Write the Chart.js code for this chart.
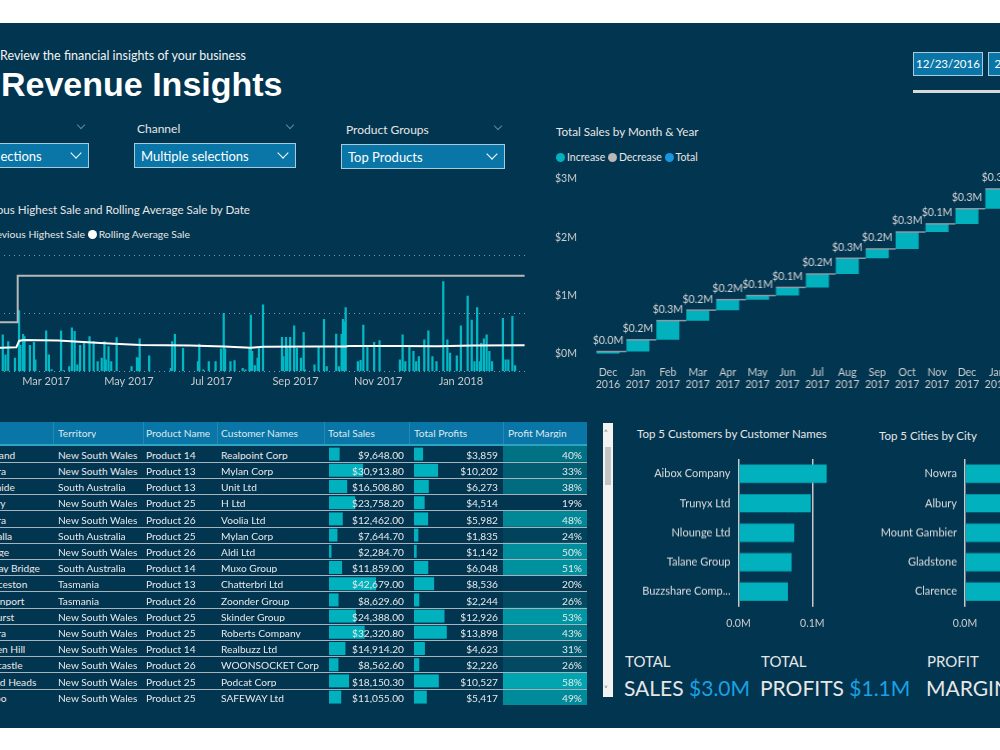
<!DOCTYPE html>
<html>
<head>
<meta charset="utf-8">
<script src="https://cdn.jsdelivr.net/npm/chart.js@4.4.0/dist/chart.umd.min.js"></script>
<style>
body{margin:0;width:1000px;height:750px;overflow:hidden;background:#fff;font-family:Lato,"Noto Sans",sans-serif;position:relative}
#dash{position:absolute;left:0;top:23px;width:1000px;height:705px;background:#023550}
.t{position:absolute;white-space:nowrap;color:#e6e6e6;line-height:1}
.box{position:absolute;background:#0a76a8;border:1px solid #a9c9dc;color:#fff;font-size:13px;line-height:24px;padding-left:6px;box-sizing:border-box;white-space:nowrap;overflow:hidden}
.chev{position:absolute;width:7px;height:7px;border-right:1.5px solid #fff;border-bottom:1.5px solid #fff;transform:rotate(45deg)}
.chev.s{width:5px;height:5px;border-color:#5f8aa3;border-width:1px}
.dot{display:inline-block;width:9px;height:9px;border-radius:50%;margin:0 2px 0 0;vertical-align:-1px}
.wrap{position:absolute}
.cell{position:absolute;overflow:hidden;white-space:nowrap}
</style>
</head>
<body>
<div id="dash"></div>

<div class="t" style="left:0;top:50px;font-size:12.5px;color:#f2f2f2">Review the financial insights of your business</div>
<div class="t" style="left:1px;top:67px;font-family:'Liberation Sans',Arial,sans-serif;font-weight:bold;font-size:34px;color:#fff">Revenue Insights</div>

<div class="box" style="left:913px;top:52px;width:70px;height:24px;font-size:11.5px;padding:0;text-align:center;line-height:22px">12/23/2016</div>
<div class="box" style="left:988px;top:52px;width:70px;height:24px;font-size:11.5px;padding:0;text-align:center;line-height:22px">2/19/2018</div>
<div style="position:absolute;left:913px;top:90px;width:90px;height:3px;background:#d9d9d9"></div>

<div class="chev s" style="left:78px;top:122px"></div>
<div class="t" style="left:137px;top:123px;font-size:12px">Channel</div>
<div class="chev s" style="left:287px;top:122px"></div>
<div class="t" style="left:346px;top:124px;font-size:12px">Product Groups</div>
<div class="chev s" style="left:495px;top:123px"></div>

<div class="box" style="left:-73px;top:143px;width:162px;height:25px">Multiple selections</div>
<div class="chev" style="left:72px;top:149px"></div>
<div class="box" style="left:134px;top:143px;width:162px;height:25px">Multiple selections</div>
<div class="chev" style="left:279px;top:149px"></div>
<div class="box" style="left:341px;top:144px;width:164px;height:25px">Top Products</div>
<div class="chev" style="left:488px;top:150px"></div>

<div class="t" style="right:750px;top:204px;font-size:11.6px">Total Sales, Previous Highest Sale and Rolling Average Sale by Date</div>
<div class="t" style="right:810px;top:229px;font-size:10.4px"><span class="dot" style="background:#01b8c4"></span>Total Sales <span class="dot" style="background:#b5b5b5"></span>Previous Highest Sale <span class="dot" style="background:#fff"></span>Rolling Average Sale</div>
<div class="wrap" style="left:-47.5px;top:240px;width:575.3px;height:151.4px"><canvas id="lineChart"></canvas></div>

<div class="t" style="left:556px;top:126px;font-size:11.7px">Total Sales by Month &amp; Year</div>
<div class="t" style="left:556px;top:152px;font-size:10.5px"><span class="dot" style="background:#01b2be"></span>Increase <span class="dot" style="background:#b8b8b8"></span>Decrease <span class="dot" style="background:#1a96e0"></span>Total</div>
<div class="wrap" style="left:555px;top:160px;width:515.6px;height:244px"><canvas id="waterfall"></canvas></div>

<div id="table"></div>
<div class="wrap" style="left:329px;top:446px;width:75px;height:259.2px;z-index:1"><canvas id="salesBars"></canvas></div>
<div class="wrap" style="left:414px;top:446px;width:84px;height:259.2px;z-index:1"><canvas id="profitBars"></canvas></div>
<div class="wrap" style="left:503px;top:446px;width:84px;height:259.2px;z-index:1"><canvas id="marginCells"></canvas></div>

<div style="position:absolute;left:603px;top:423px;width:10px;height:274px;background:#f2f2f2"></div>
<div style="position:absolute;left:605px;top:447px;width:6px;height:38px;background:#c4c4c4"></div>
<div class="t" style="left:604px;top:428px;font-size:8px;color:#666">&#708;</div>
<div class="t" style="left:604px;top:684px;font-size:8px;color:#666">&#709;</div>

<div class="t" style="left:637px;top:428px;font-size:11.5px">Top 5 Customers by Customer Names</div>
<div class="wrap" style="left:630px;top:459.4px;width:204.4px;height:181.2px"><canvas id="custChart"></canvas></div>
<div class="t" style="left:879px;top:430px;font-size:11.5px">Top 5 Cities by City</div>
<div class="wrap" style="left:850px;top:459.4px;width:211px;height:181.2px"><canvas id="cityChart"></canvas></div>

<div class="t" style="left:625px;top:654px;font-size:15px">TOTAL</div>
<div class="t" style="left:624px;top:677px;font-size:21px">SALES <span style="color:#1ba1e2">$3.0M</span></div>
<div class="t" style="left:761px;top:654px;font-size:15px">TOTAL</div>
<div class="t" style="left:760px;top:677px;font-size:21px">PROFITS <span style="color:#1ba1e2">$1.1M</span></div>
<div class="t" style="left:927px;top:654px;font-size:15px">PROFIT</div>
<div class="t" style="left:926px;top:677px;font-size:21px">MARGIN <span style="color:#1ba1e2">37%</span></div>

<script>
// daily sales bars (visible part of the chart)
const saleDates = ['2017-01-28','2017-01-30','2017-02-01','2017-02-06','2017-02-09','2017-02-10','2017-02-12','2017-02-13','2017-02-17','2017-02-20','2017-02-21',
  '2017-03-01','2017-03-03','2017-03-05','2017-03-12','2017-03-14','2017-03-18','2017-03-20','2017-03-22','2017-03-24','2017-03-26','2017-03-29',
  '2017-04-02','2017-04-05','2017-04-08','2017-04-11','2017-04-13','2017-04-14','2017-04-16','2017-04-18','2017-04-22',
  '2017-05-03','2017-05-07','2017-05-08','2017-05-09','2017-05-16',
  '2017-06-01','2017-06-02','2017-06-04','2017-06-10','2017-06-21','2017-06-22','2017-06-25','2017-06-29',
  '2017-07-04','2017-07-08','2017-07-10','2017-07-11','2017-07-15','2017-07-18','2017-07-24','2017-07-26','2017-07-29','2017-07-30','2017-07-31',
  '2017-08-02','2017-08-04','2017-08-05','2017-08-08','2017-08-22','2017-08-23','2017-08-25','2017-08-26','2017-08-28','2017-08-31',
  '2017-09-02','2017-09-05','2017-09-07','2017-09-08','2017-09-15','2017-09-18','2017-09-22','2017-09-24',
  '2017-10-01','2017-10-03','2017-10-05','2017-10-06','2017-10-07','2017-10-08','2017-10-17','2017-10-19','2017-10-21','2017-10-24','2017-10-29',
  '2017-11-02','2017-11-17','2017-11-19','2017-11-21','2017-11-24','2017-11-27','2017-11-29',
  '2017-12-01','2017-12-05','2017-12-08','2017-12-11','2017-12-14','2017-12-19','2017-12-22','2017-12-24','2017-12-29',
  '2018-01-01','2018-01-06','2018-01-09','2018-01-11','2018-01-13','2018-01-15','2018-01-16','2018-01-18','2018-01-20','2018-01-22','2018-01-24',
  '2018-02-01','2018-02-03','2018-02-05','2018-02-08','2018-02-10'];
const saleValues = [12600,5700,10300,4600,21000,9000,12800,12000,9000,10000,4000,
  14000,5700,600,14000,300,1700,15000,13800,2300,9000,10300,
  12000,10300,3400,4600,10300,4000,8600,3400,11700,
  1700,4800,4600,11200,5400,
  1100,10300,12800,8000,3400,9400,500,3400,
  3400,7800,20000,7800,3400,3700,1100,500,8000,19400,6900,
  2000,4600,8000,23000,11800,5100,11800,8000,11800,15700,
  8000,4600,13500,500,2300,8600,18000,1700,
  12900,1700,12800,18000,17000,22000,3400,3800,16000,8600,10000,
  10600,4000,12600,3400,8600,6900,3400,
  5100,10900,14000,5100,3400,31000,10900,6300,5400,
  15700,26000,17700,3400,22000,3400,9700,11200,12600,6900,3400,
  18300,4000,4000,19000,2000];

const highDates = ['2016-12-23','2017-02-08','2017-02-08','2018-02-17'];
const highValues = [17000,17000,33000,33000];

const avgDates = ['2016-12-23','2017-01-27','2017-02-07','2017-02-09','2017-02-12','2017-03-10','2017-03-25','2017-04-20','2017-05-10','2017-06-15',
  '2017-07-10','2017-07-30','2017-08-08','2017-09-15','2017-10-08','2017-10-10','2017-11-15','2017-12-15','2018-01-10','2018-02-17'];
const avgValues = [8000,8200,8300,10500,10800,10700,10200,9500,9100,8900,8600,8200,8500,8600,8600,8800,8800,8700,8900,9000];

const lineTickDates = ['2017-03-01','2017-05-01','2017-07-01','2017-09-01','2017-11-01','2018-01-01'];
const lineTickLabels = ['Mar 2017','May 2017','Jul 2017','Sep 2017','Nov 2017','Jan 2018'];

// waterfall: monthly sales in $M
const months = [['Dec','2016'],['Jan','2017'],['Feb','2017'],['Mar','2017'],['Apr','2017'],['May','2017'],['Jun','2017'],['Jul','2017'],
  ['Aug','2017'],['Sep','2017'],['Oct','2017'],['Nov','2017'],['Dec','2017'],['Jan','2018'],['Feb','2018'],['Total','']];
const monthSales = [0.04,0.20,0.33,0.18,0.18,0.07,0.14,0.23,0.27,0.16,0.29,0.14,0.26,0.34,0.17];
const waterTicks = [0,1,2,3];

// top 5 bars, $M
const custNames = ['Aibox Company','Trunyx Ltd','Nlounge Ltd','Talane Group','Buzzshare Comp...'];
const custSales = [0.1195,0.098,0.0756,0.072,0.067];
const cityNames = ['Nowra','Albury','Mount Gambier','Gladstone','Clarence'];
const citySales = [0.125,0.115,0.106,0.099,0.092];

// table
const tblCity = ['Maitland','Nowra','Adelaide','Albury','Nowra','Whyalla','Orange','Murray Bridge','Launceston','Devonport','Bathurst','Nowra','Broken Hill','Newcastle','Tweed Heads','Dubbo'];
const tblTerritory = ['New South Wales','New South Wales','South Australia','New South Wales','New South Wales','South Australia','New South Wales','South Australia','Tasmania','Tasmania','New South Wales','New South Wales','New South Wales','New South Wales','New South Wales','New South Wales'];
const tblProduct = ['Product 14','Product 13','Product 13','Product 25','Product 26','Product 25','Product 26','Product 14','Product 13','Product 26','Product 25','Product 25','Product 14','Product 26','Product 25','Product 25'];
const tblCustomer = ['Realpoint Corp','Mylan Corp','Unit Ltd','H Ltd','Voolia Ltd','Mylan Corp','Aldi Ltd','Muxo Group','Chatterbri Ltd','Zoonder Group','Skinder Group','Roberts Company','Realbuzz Ltd','WOONSOCKET Corp','Podcat Corp','SAFEWAY Ltd'];
const tblSales = [9648.00,30913.80,16508.80,23758.20,12462.00,7644.70,2284.70,11859.00,42679.00,8629.60,24388.00,32320.80,14914.20,8562.60,18150.30,11055.00];
const tblProfits = [3859,10202,6273,4514,5982,1835,1142,6048,8536,2244,12926,13898,4623,2226,10527,5417];
const tblMargin = [40,33,38,19,48,24,50,51,20,26,53,43,31,26,58,49];

Chart.defaults.font.family = 'Lato, "Noto Sans", sans-serif';
Chart.defaults.color = '#d0d0d0';
Chart.defaults.animation = false;
Chart.defaults.plugins.legend.display = false;
Chart.defaults.plugins.tooltip.enabled = false;

const TEAL = '#01b2be';
const dayOf = s => (Date.parse(s) - Date.parse('2017-03-01')) / 864e5;
const noPadY = s => { s.paddingTop = 0; s.paddingBottom = 0; };
const noPadX = s => { s.paddingLeft = 0; s.paddingRight = 0; };

// ---- line + bars chart
new Chart(document.getElementById('lineChart'), {
  type: 'bar',
  data: {
    datasets: [
      {type: 'line', data: highDates.map((d, i) => ({x: dayOf(d), y: highValues[i]})), borderColor: '#b8b8b8', borderWidth: 2, pointRadius: 0, order: 1},
      {type: 'line', data: avgDates.map((d, i) => ({x: dayOf(d), y: avgValues[i]})), borderColor: '#ffffff', borderWidth: 2, pointRadius: 0, order: 0},
      {type: 'bar', data: saleDates.map((d, i) => ({x: dayOf(d), y: saleValues[i]})), backgroundColor: '#01b8c4', barThickness: 1.6, order: 2}
    ]
  },
  options: {
    responsive: true, maintainAspectRatio: false,
    layout: {padding: 0},
    scales: {
      x: {type: 'linear', min: dayOf('2016-12-23'), max: dayOf('2018-02-19'), offset: false,
        grid: {display: false, drawTicks: false}, border: {display: false},
        afterFit: noPadX,
        afterBuildTicks: s => { s.ticks = lineTickDates.map(d => ({value: dayOf(d)})); },
        ticks: {autoSkip: false, maxRotation: 0, padding: 3.4, font: {size: 11}, color: '#c8c8c8',
          callback: v => lineTickLabels[lineTickDates.findIndex(d => dayOf(d) === v)]}},
      y: {min: 0, max: 45000,
        afterFit: noPadY,
        afterBuildTicks: s => { s.ticks = [0, 20000, 40000].map(v => ({value: v})); },
        ticks: {display: false}, grid: {color: 'rgba(170,185,200,0.75)', drawTicks: false, lineWidth: 1},
        border: {display: false, dash: [1, 4]}}
    }
  }
});

// ---- waterfall
const floats = [];
let run = 0;
monthSales.forEach(v => { floats.push([run, run + v]); run += v; });
floats.push([0, run]);
const barColors = floats.map((f, i) => i === floats.length - 1 ? '#1a96e0' : TEAL);

const waterPlugin = {
  id: 'waterExtras',
  afterDatasetsDraw(chart) {
    const ctx = chart.ctx, meta = chart.getDatasetMeta(0), ys = chart.scales.y;
    ctx.save();
    ctx.strokeStyle = '#8a9aa6'; ctx.lineWidth = 1.5;
    for (let i = 0; i < meta.data.length - 1; i++) {
      const a = meta.data[i], b = meta.data[i + 1];
      const y = ys.getPixelForValue(floats[i][1]);
      ctx.beginPath(); ctx.moveTo(a.x - a.width / 2, y); ctx.lineTo(b.x - b.width / 2, y); ctx.stroke();
    }
    ctx.fillStyle = '#d8d8d8'; ctx.font = '10.5px Lato, sans-serif'; ctx.textAlign = 'center'; ctx.textBaseline = 'middle';
    meta.data.forEach((el, i) => {
      const v = floats[i][1] - floats[i][0];
      ctx.fillText('$' + v.toFixed(1) + 'M', el.x, ys.getPixelForValue(floats[i][1]) - 11);
    });
    ctx.restore();
  }
};

new Chart(document.getElementById('waterfall'), {
  type: 'bar',
  data: {labels: months, datasets: [{data: floats, backgroundColor: barColors, barPercentage: 0.77, categoryPercentage: 1}]},
  options: {
    responsive: true, maintainAspectRatio: false, layout: {padding: 0},
    scales: {
      x: {grid: {display: false, drawTicks: false}, border: {display: false}, afterFit: noPadX,
        ticks: {autoSkip: false, maxRotation: 0, padding: 13, font: {size: 10.5, lineHeight: 1.15}, color: '#d0d0d0'}},
      y: {min: 0, max: 3.326,
        afterBuildTicks: s => { s.ticks = waterTicks.map(v => ({value: v})); },
        afterFit: s => { s.width = 38; noPadY(s); },
        grid: {display: false, drawTicks: false}, border: {display: false},
        ticks: {crossAlign: 'far', font: {size: 10.5}, color: '#d0d0d0', callback: v => '$' + v + 'M'}}
    }
  },
  plugins: [waterPlugin]
});

// ---- top 5 bar charts
function topChart(id, names, values, axisW) {
  new Chart(document.getElementById(id), {
    type: 'bar',
    data: {labels: names, datasets: [{data: values, backgroundColor: TEAL, barPercentage: 0.62, categoryPercentage: 1}]},
    options: {
      indexAxis: 'y', responsive: true, maintainAspectRatio: false, layout: {padding: 0},
      scales: {
        x: {min: 0, max: 0.13, afterFit: noPadX,
          afterBuildTicks: s => { s.ticks = [0, 0.1].map(v => ({value: v})); },
          grid: {color: '#c8c8c8', lineWidth: 1.5, drawTicks: false}, border: {display: false},
          ticks: {padding: 11, font: {size: 10.5}, color: '#d0d0d0', callback: v => v.toFixed(1) + 'M'}},
        y: {afterFit: s => { s.width = axisW; noPadY(s); },
          grid: {display: false, drawTicks: false}, border: {display: false},
          ticks: {padding: 8, font: {size: 11}, color: '#dedede'}}
      }
    }
  });
}
topChart('custChart', custNames, custSales, 108.5);
topChart('cityChart', cityNames, citySales, 115);

// ---- table text
const rowH = 16.2, bodyTop = 446, fs = 10.2;
const cols = [
  {h: 'City', x: -24, w: 77},
  {h: 'Territory', x: 58, w: 85},
  {h: 'Product Name', x: 146, w: 71},
  {h: 'Customer Names', x: 221, w: 103},
  {h: 'Total Sales', x: 328, w: 76, right: 404},
  {h: 'Total Profits', x: 414, w: 84, right: 498},
  {h: 'Profit Margin', x: 508, w: 74, right: 582}
];
let html = '<div style="position:absolute;left:-40px;top:422px;width:627px;height:22px;background:#0a75a7;border-bottom:2px solid #2aa6c4"></div>';
[53, 143, 217, 324, 409, 503].forEach(x => { html += `<div style="position:absolute;left:${x}px;top:422px;width:1px;height:22px;background:#2487b6"></div>`; });
cols.forEach(c => { html += `<div class="cell t" style="left:${c.x}px;top:427.5px;font-size:${fs}px;color:#dde8ee">${c.h}</div>`; });
const money2 = v => '$' + v.toLocaleString('en-US', {minimumFractionDigits: 2, maximumFractionDigits: 2});
const money0 = v => '$' + v.toLocaleString('en-US');
tblCity.forEach((c, i) => {
  const top = bodyTop + i * rowH;
  const vals = [c, tblTerritory[i], tblProduct[i], tblCustomer[i], money2(tblSales[i]), money0(tblProfits[i]), tblMargin[i] + '%'];
  vals.forEach((v, j) => {
    const col = cols[j];
    const pos = col.right !== undefined ? `right:${1000 - col.right}px;text-align:right;` : `left:${col.x}px;width:${col.w}px;`;
    html += `<div class="cell t" style="${pos}top:${top + 3.8}px;font-size:${fs}px;color:#e8e8e8;z-index:2">${v}</div>`;
  });
  if (i > 0) html += `<div style="position:absolute;left:-40px;top:${top - 0.5}px;width:627px;height:1px;background:#a6b3bd;z-index:3"></div>`;
});
document.getElementById('table').innerHTML = html;

// ---- table data bars and margin cells
function cellChart(id, values, max, colors, pct) {
  new Chart(document.getElementById(id), {
    type: 'bar',
    data: {labels: values.map((v, i) => i), datasets: [{data: values, backgroundColor: colors, barPercentage: pct, categoryPercentage: 1}]},
    options: {
      indexAxis: 'y', responsive: true, maintainAspectRatio: false, layout: {padding: 0},
      scales: {x: {display: false, min: 0, max: max}, y: {display: false}}
    }
  });
}
cellChart('salesBars', tblSales, 68000, TEAL, 0.8);
cellChart('profitBars', tblProfits, 35600, TEAL, 0.8);
const mMin = Math.min(...tblMargin), mMax = Math.max(...tblMargin);
const marginColors = tblMargin.map(m => {
  const t = (m - mMin) / (mMax - mMin);
  return `rgb(${Math.round(2 - 2 * t)},${Math.round(53 + 112 * t)},${Math.round(80 + 96 * t)})`;
});
cellChart('marginCells', tblMargin.map(() => 1), 1, marginColors, 1);
</script>
</body>
</html>
